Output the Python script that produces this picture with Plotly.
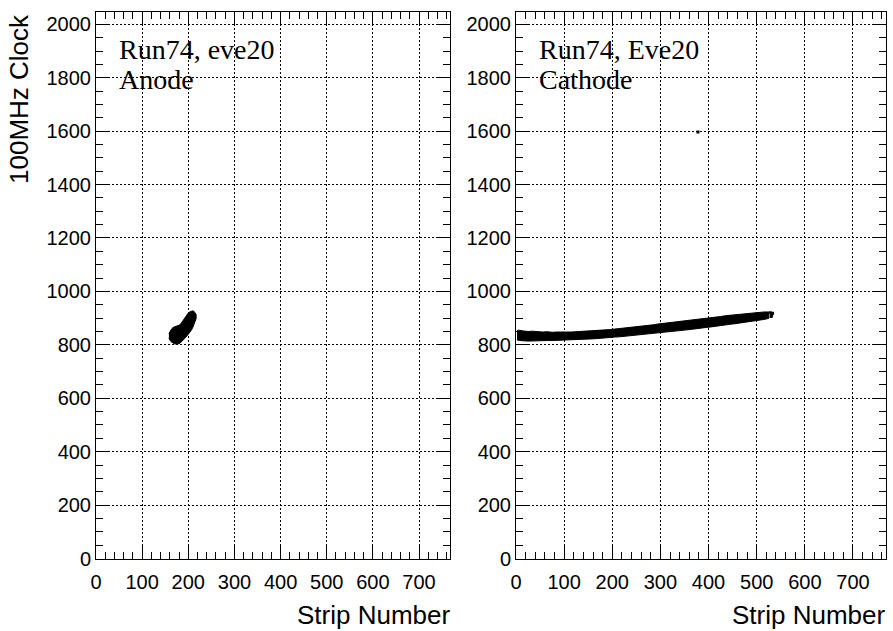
import plotly.graph_objects as go

# ---------------- data ----------------
# Anode panel: extent of hits per strip (clock low / high)
anode_strip = [158, 161, 164, 167, 170, 173, 176, 179, 182, 185, 188, 191, 194, 197, 200, 203, 206, 209, 212, 215, 217]
anode_lo    = [826, 815, 810, 806, 804, 803, 803, 804, 806, 810, 816, 822, 827, 832, 838, 846, 853, 862, 872, 888, 898]
anode_hi    = [842, 852, 860, 865, 867, 868, 869, 871, 875, 882, 890, 899, 907, 914, 919, 923, 926, 927, 926, 920, 914]

# Cathode panel: extent of hits per strip (clock low / high)
cathode_strip = [2, 5, 15, 25, 35, 45, 55, 65, 75, 85, 95, 105, 115, 125, 135, 145, 155, 165, 175, 185,
                 195, 205, 215, 225, 235, 245, 255, 265, 275, 285, 295, 305, 315, 325, 335, 345, 355,
                 365, 375, 385, 395, 405, 415, 425, 435, 445, 455, 465, 475, 485, 495, 505, 515, 525]
cathode_lo = [818, 816, 815, 814, 815, 815, 815, 816, 816, 816, 817, 817, 818, 819, 820, 821, 822, 823, 825, 826,
              827, 829, 830, 832, 834, 836, 837, 839, 841, 843, 845, 846, 848, 850, 852, 854, 856,
              858, 860, 862, 865, 867, 869, 872, 874, 877, 879, 882, 884, 886, 889, 892, 895, 899]
cathode_hi = [853, 855, 852, 850, 851, 849, 848, 849, 847, 848, 847, 848, 848, 849, 849, 850, 851, 853, 854, 856,
              857, 859, 861, 862, 864, 866, 867, 870, 872, 875, 878, 880, 882, 884, 886, 888, 890,
              892, 894, 897, 899, 902, 904, 906, 909, 911, 913, 915, 916, 918, 920, 921, 923, 923]
# isolated hits on the cathode
cathode_extra_strip = [528, 531, 533, 530, 378]
cathode_extra_clock = [920, 912, 918, 906, 1597]

x_tick_vals = [0, 100, 200, 300, 400, 500, 600, 700]
y_tick_vals = [0, 200, 400, 600, 800, 1000, 1200, 1400, 1600, 1800, 2000]

texts_left = ["Run74, eve20", "Anode"]
texts_right = ["Run74, Eve20", "Cathode"]
x_title = "Strip Number"
y_title = "100MHz Clock"

# ---------------- figure ----------------
W, H = 893, 631

def px(x):
    return x / W

def py(y):
    return 1 - y / H

fig = go.Figure()

def band(strip, lo, hi, xa, ya):
    xs = list(strip) + list(strip)[::-1]
    ys = list(hi) + list(lo)[::-1]
    return go.Scatter(x=xs, y=ys, xaxis=xa, yaxis=ya, mode="lines", fill="toself",
                      fillcolor="black", line=dict(color="black", width=1),
                      hoverinfo="skip", showlegend=False)

fig.add_trace(band(anode_strip, anode_lo, anode_hi, "x", "y"))
fig.add_trace(band(cathode_strip, cathode_lo, cathode_hi, "x2", "y2"))
fig.add_trace(go.Scatter(x=cathode_extra_strip, y=cathode_extra_clock, xaxis="x2", yaxis="y2",
                         mode="markers", marker=dict(color="black", size=3, symbol="square"),
                         showlegend=False))

tickfont = dict(family="Liberation Sans, Arial, sans-serif", size=20, color="black")

def xaxis_cfg(domain):
    return dict(domain=domain, range=[0, 768], tickmode="array", tickvals=x_tick_vals,
                ticks="inside", ticklen=14, tickwidth=1, tickcolor="black",
                minor=dict(dtick=20, tick0=0, ticks="inside", ticklen=7, tickwidth=1,
                           tickcolor="black", showgrid=False),
                showline=True, linecolor="black", linewidth=1, mirror="allticks",
                showgrid=True, gridcolor="black", gridwidth=1, griddash="2px,2px",
                zeroline=False, tickfont=tickfont, ticklabelstandoff=5,
                automargin=False, fixedrange=True)

def yaxis_cfg(anchor, standoff):
    return dict(domain=[py(558.5), py(11.5)], range=[0, 2048], anchor=anchor,
                tickmode="array", tickvals=y_tick_vals,
                ticks="inside", ticklen=14, tickwidth=1, tickcolor="black",
                minor=dict(dtick=50, tick0=0, ticks="inside", ticklen=7, tickwidth=1,
                           tickcolor="black", showgrid=False),
                showline=True, linecolor="black", linewidth=1, mirror="allticks",
                showgrid=True, gridcolor="black", gridwidth=1, griddash="2px,2px",
                zeroline=False, tickfont=tickfont, ticklabelstandoff=standoff,
                automargin=False, fixedrange=True)

xa1 = xaxis_cfg([px(96), px(450.4)]); xa1["anchor"] = "y"
xa2 = xaxis_cfg([px(516), px(885.7)]); xa2["anchor"] = "y2"

fig.update_layout(
    width=W, height=H, autosize=False,
    margin=dict(l=0, r=0, t=0, b=0, pad=0, autoexpand=False),
    paper_bgcolor="white", plot_bgcolor="white",
    xaxis=xa1, xaxis2=xa2,
    yaxis=yaxis_cfg("x", 0), yaxis2=yaxis_cfg("x2", 0),
    showlegend=False,
)

titlefont = dict(family="Liberation Sans, Arial, sans-serif", size=26, color="black")
serif = dict(family="Liberation Serif, Times New Roman, serif", size=28, color="black")

ann = []
ann.append(dict(text=y_title, textangle=-90, x=px(19), y=py(99), xref="paper", yref="paper",
                xanchor="center", yanchor="middle", showarrow=False, font=titlefont))
ann.append(dict(text=x_title, x=px(452), y=py(615), xref="paper", yref="paper",
                xanchor="right", yanchor="middle", showarrow=False, font=titlefont))
ann.append(dict(text=x_title, x=px(887), y=py(615), xref="paper", yref="paper",
                xanchor="right", yanchor="middle", showarrow=False, font=titlefont))
for i, t in enumerate(texts_left):
    ann.append(dict(text=t, x=px(117), y=py(49 + 30 * i), xref="paper", yref="paper",
                    xanchor="left", yanchor="middle", showarrow=False, font=serif))
for i, t in enumerate(texts_right):
    ann.append(dict(text=t, x=px(537), y=py(49 + 30 * i), xref="paper", yref="paper",
                    xanchor="left", yanchor="middle", showarrow=False, font=serif))
fig.update_layout(annotations=ann)

fig.write_html("out.html", config={"displayModeBar": False},
               post_script="document.body.style.margin='0';document.body.style.overflow='hidden';")
